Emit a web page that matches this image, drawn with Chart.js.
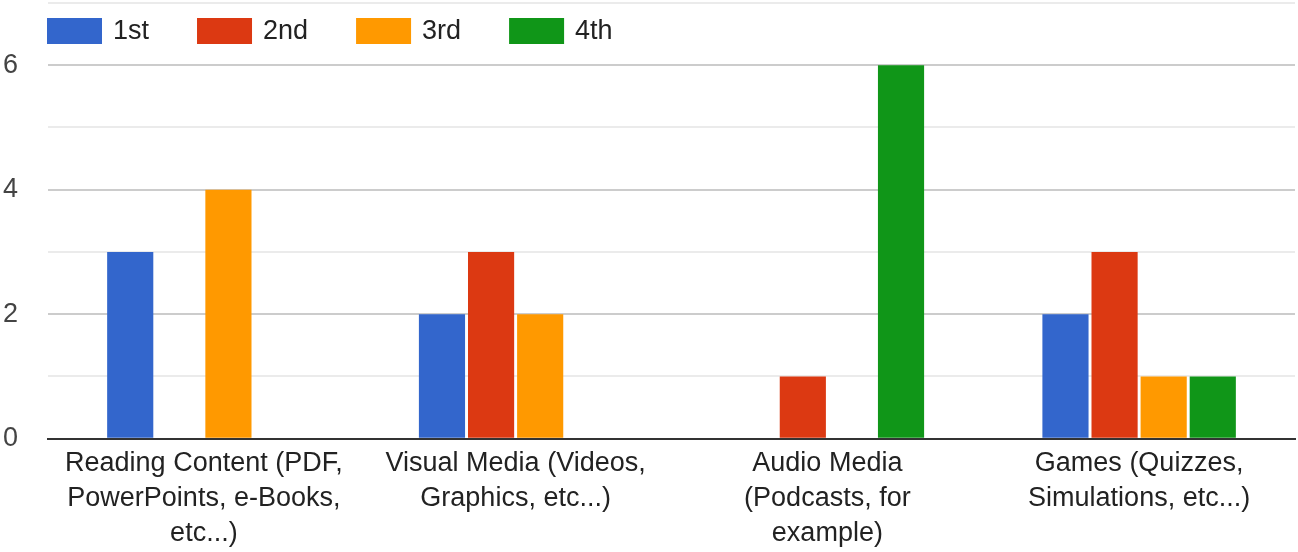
<!DOCTYPE html>
<html>
<head>
<meta charset="utf-8">
<script src="https://cdn.jsdelivr.net/npm/chart.js@4"></script>
<style>
  html, body { margin: 0; padding: 0; background: #fff; }
  #wrap { width: 1298px; height: 552px; }
</style>
</head>
<body>
<div id="wrap"><canvas id="chart"></canvas></div>
<script>
const categories = [
  ['Reading Content (PDF,', 'PowerPoints, e-Books,', 'etc...)'],
  ['Visual Media (Videos,', 'Graphics, etc...)'],
  ['Audio Media', '(Podcasts, for', 'example)'],
  ['Games (Quizzes,', 'Simulations, etc...)']
];
const rankLabels = ['1st', '2nd', '3rd', '4th'];
const rankColors = ['#3366cc', '#dc3912', '#ff9900', '#109618'];
const firstChoice = [3, 2, 0, 2];
const secondChoice = [0, 3, 1, 3];
const thirdChoice = [4, 2, 0, 1];
const fourthChoice = [0, 0, 6, 1];
const yLabelled = [0, 2, 4, 6];

const FONT = '"Liberation Sans", Arial, sans-serif';

// legend drawn inside the plot, above the 6 line
const topLegend = {
  id: 'topLegend',
  afterDraw(chart) {
    const ctx = chart.ctx;
    let x = 47;
    ctx.save();
    ctx.font = '27px ' + FONT;
    ctx.textBaseline = 'middle';
    chart.data.datasets.forEach(ds => {
      ctx.fillStyle = ds.backgroundColor;
      ctx.fillRect(x, 18, 55, 26);
      ctx.fillStyle = '#222';
      ctx.fillText(ds.label, x + 66, 32);
      x += 66 + ctx.measureText(ds.label).width + 48;
    });
    ctx.restore();
  }
};

const series = [firstChoice, secondChoice, thirdChoice, fourthChoice];

new Chart(document.getElementById('chart'), {
  type: 'bar',
  data: {
    labels: categories,
    datasets: series.map((values, i) => ({
      label: rankLabels[i],
      data: values,
      backgroundColor: rankColors[i],
      borderWidth: 0,
      categoryPercentage: 0.63,
      barPercentage: 0.94
    }))
  },
  options: {
    responsive: true,
    maintainAspectRatio: false,
    animation: false,
    layout: { padding: { left: 3, right: 3, top: 3, bottom: -6 } },
    plugins: {
      legend: { display: false },
      tooltip: { enabled: false }
    },
    scales: {
      x: {
        grid: { display: false, drawTicks: false },
        border: { color: '#333', width: 2 },
        ticks: {
          autoSkip: false,
          maxRotation: 0,
          padding: 7,
          color: '#222',
          font: { family: FONT, size: 27, lineHeight: 1.3 }
        }
      },
      y: {
        min: 0,
        max: 7,
        border: { display: false },
        grid: {
          drawTicks: false,
          lineWidth: 2,
          color: c => c.tick.value === 0 ? '#333' : (c.tick.value % 2 === 0 ? '#cccccc' : '#ebebeb')
        },
        ticks: {
          stepSize: 1,
          padding: 30,
          color: '#444',
          font: { family: FONT, size: 27 },
          callback: v => yLabelled.includes(v) ? v : ''
        },
        afterFit(scale) {
          scale.width = 45;
          scale.paddingTop = 0;
        }
      }
    }
  },
  plugins: [topLegend]
});
</script>
</body>
</html>
